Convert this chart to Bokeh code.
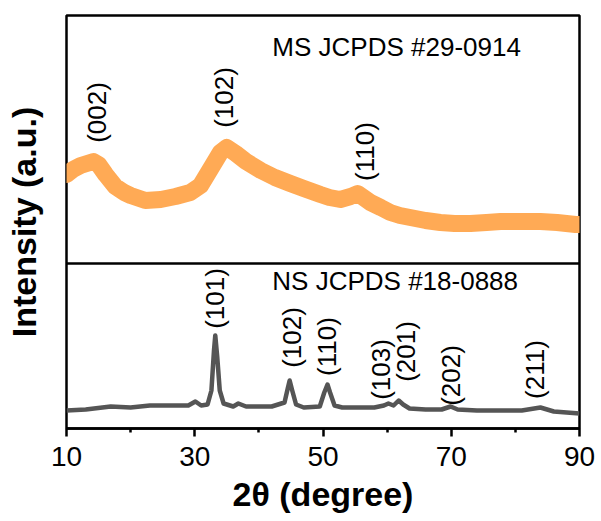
import math
from bokeh.plotting import figure
from bokeh.models import Range1d, LinearAxis, FixedTicker, Span, Label
from bokeh.embed import file_html
from bokeh.resources import INLINE
from bokeh.core.properties import value

# ---------------- data ----------------
# MS pattern (top panel), intensity in a.u.
ms_2theta = [10.0, 11.0, 12.2, 13.2, 14.2, 15.0, 16.1, 17.6, 19.0, 20.0, 22.3, 24.7,
             27.0, 29.3, 30.9, 32.5, 34.0, 35.0, 36.4, 38.0, 40.3, 42.5, 44.9, 47.0,
             49.6, 51.0, 52.7, 54.3, 55.4, 56.3, 57.4, 59.0, 60.5, 62.0, 63.6, 66.0,
             68.3, 70.5, 73.0, 75.5, 77.7, 80.0, 83.9, 86.5, 89.4, 90.0]
ms_intensity = [89, 94, 98, 100, 102, 99, 89, 77, 71, 68, 63, 64,
                67, 71, 78, 95, 111, 116, 110, 102, 93, 86, 80, 75,
                69, 66, 64, 67, 70, 66, 61, 56, 51, 48, 46, 43,
                41, 40, 40, 41, 42, 42, 42, 41, 39, 39]

# NS pattern (bottom panel), intensity in a.u.
ns_2theta = [10, 13, 16.9, 20, 23, 26, 29, 30.1, 31, 32.0, 32.6, 33.0, 33.2, 33.5,
             33.9, 34.5, 36, 36.8, 38, 42, 44.0, 44.5, 44.8, 45.2, 45.8, 47, 49.5,
             50.2, 50.7, 51.1, 51.8, 53, 56, 58, 59.5, 60.2, 61.0, 61.8, 62.5, 63.5,
             66, 68.5, 69.9, 71, 74, 78, 81, 83.9, 86, 88, 90]
ns_intensity = [18, 19, 22, 21, 23, 23, 23, 27, 23, 24, 38, 78, 93, 72,
                38, 25, 22, 25, 22, 22, 26, 40, 48, 38, 24, 21, 22,
                36, 44, 36, 23, 21, 21, 21, 23, 25, 23, 28, 24, 20,
                19, 19, 22, 19, 18, 18, 18, 21, 17, 16, 15]

ms_hkl = ["(002)", "(102)", "(110)"]
ms_hkl_x = [14.8, 34.6, 56.5]
ms_hkl_y = [151, 166, 112]

ns_hkl = ["(101)", "(102)", "(110)", "(103)", "(201)", "(202)", "(211)"]
ns_hkl_x = [33.2, 45.1, 50.7, 59.0, 63.0, 69.9, 83.1]
ns_hkl_y = [130, 91, 82, 59, 77, 53, 59]

x_ticks = [10, 30, 50, 70, 90]
x_minor = [20, 40, 60, 80]

FONT = "Liberation Sans"

p = figure(width=601, height=521, output_backend="svg", toolbar_location=None,
           x_range=Range1d(10, 90), y_range=Range1d(0, 413),
           min_border_left=66, min_border_right=22, min_border_top=15,
           min_border_bottom=93, x_axis_location=None, y_axis_location=None)
p.extra_y_ranges = {"top": Range1d(-165, 248)}
p.grid.visible = False
p.outline_line_color = "black"
p.outline_line_width = 2.5
p.background_fill_color = "white"
p.border_fill_color = "white"

xaxis = LinearAxis(ticker=FixedTicker(ticks=x_ticks, minor_ticks=x_minor))
xaxis.axis_line_width = 2.5
xaxis.major_tick_line_width = 2.5
xaxis.minor_tick_line_width = 2.5
xaxis.major_tick_out = 8
xaxis.major_tick_in = 0
xaxis.minor_tick_out = 4
xaxis.minor_tick_in = 0
xaxis.major_label_text_font = FONT
xaxis.major_label_text_font_size = "28px"
xaxis.major_label_text_color = "black"
xaxis.major_label_standoff = 10
xaxis.axis_label = "2θ (degree)"
xaxis.axis_label_text_font = FONT
xaxis.axis_label_text_font_style = "bold"
xaxis.axis_label_text_font_size = "34px"
xaxis.axis_label_text_color = "black"
xaxis.axis_label_standoff = 6
p.add_layout(xaxis, "below")

yaxis = LinearAxis(ticker=FixedTicker(ticks=[]))
yaxis.axis_line_color = None
yaxis.major_label_text_font_size = "0px"
yaxis.axis_label = "Intensity (a.u.)"
yaxis.axis_label_text_font = FONT
yaxis.axis_label_text_font_style = "bold"
yaxis.axis_label_text_font_size = "34px"
yaxis.axis_label_text_color = "black"
yaxis.axis_label_standoff = 24
p.add_layout(yaxis, "left")

# divider between panels
p.add_layout(Span(location=165, dimension="width", line_color="black", line_width=2.5))

# curves
p.line(ms_2theta, ms_intensity, y_range_name="top", line_color="#FFAA55",
       line_width=17, line_join="round", line_cap="round")
p.line(ns_2theta, ns_intensity, line_color="#555555", line_width=4.5, line_join="round")

# hkl labels
p.text(ms_hkl_x, ms_hkl_y, text=ms_hkl, y_range_name="top", angle=math.pi / 2,
       text_align="center", text_baseline="middle", text_font=value(FONT),
       text_font_size="26px", text_color="black")
p.text(ns_hkl_x, ns_hkl_y, text=ns_hkl, angle=math.pi / 2,
       text_align="center", text_baseline="middle", text_font=value(FONT),
       text_font_size="26px", text_color="black")

# panel titles
p.add_layout(Label(x=42.1, y=217, y_range_name="top", text="MS JCPDS #29-0914",
                   text_font=FONT, text_font_size="26px", text_align="left",
                   text_baseline="middle", text_color="black"))
p.add_layout(Label(x=42.1, y=148, text="NS JCPDS #18-0888",
                   text_font=FONT, text_font_size="26px", text_align="left",
                   text_baseline="middle", text_color="black"))

open("out.html", "w").write(file_html(p, INLINE))
